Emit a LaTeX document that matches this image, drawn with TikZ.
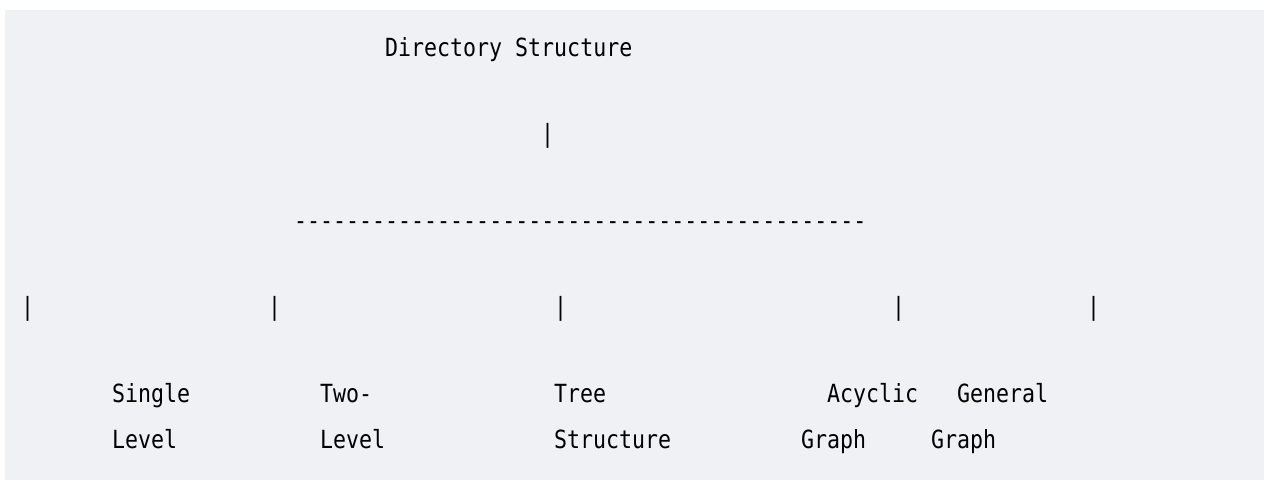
\documentclass[tikz,border=0pt]{standalone}
\usepackage{fontspec}
\setmonofont[FakeStretch=0.864]{DejaVu Sans Mono}
\definecolor{pagebg}{RGB}{240,241,245}

\begin{document}
\begin{tikzpicture}[x=1pt,y=-1pt,
    txt/.style={anchor=base west,inner sep=0pt,font=\ttfamily\fontsize{25}{30}\selectfont}]
  \useasboundingbox (0,0) rectangle (1264,480);
  \fill[pagebg] (5,10) rectangle (1264,480);
  % text column c starts at 21+13c
  \node[txt] (title) at ({21+13*28},56) {Directory Structure};
  \node[txt] (stem) at ({21+13*40},142.5) {|};
  \node[txt] (rule) at ({21+13*21},229) {--------------------------------------------};
  \foreach \c/\n in {0/single,19/two,41/tree,67/acyclic,82/general}
    \node[txt] (bar-\n) at ({21+13*\c},315.5) {|};
  % kinds, two lines each
  \node[txt] (single-a) at ({21+13*7},402) {Single};
  \node[txt] (single-b) at ({21+13*7},448) {Level};
  \node[txt] (two-a) at ({21+13*23},402) {Two-};
  \node[txt] (two-b) at ({21+13*23},448) {Level};
  \node[txt] (tree-a) at ({21+13*41},402) {Tree};
  \node[txt] (tree-b) at ({21+13*41},448) {Structure};
  \node[txt] (acyclic-a) at ({21+13*62},402) {Acyclic};
  \node[txt] (acyclic-b) at ({21+13*60},448) {Graph};
  \node[txt] (general-a) at ({21+13*72},402) {General};
  \node[txt] (general-b) at ({21+13*70},448) {Graph};
\end{tikzpicture}
\end{document}
